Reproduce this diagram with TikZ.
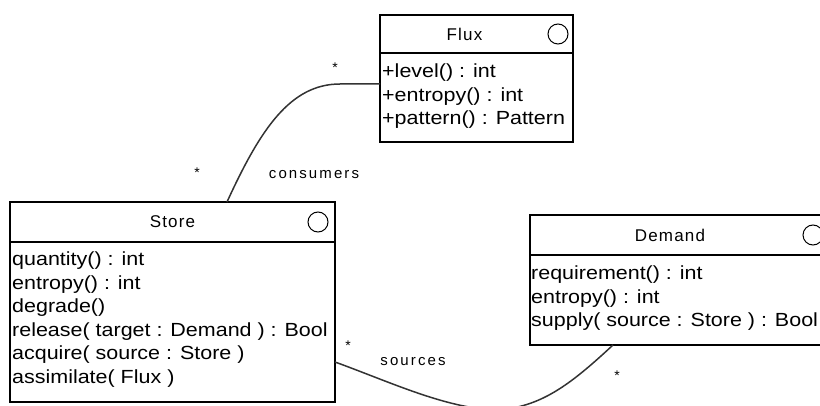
\documentclass[tikz,border=0pt]{standalone}
\usepackage{fontspec}
\setmainfont{Liberation Sans}
\newfontfamily\opsfont[FakeStretch=1.13]{Liberation Sans}
\newfontfamily\headfont[LetterSpace=7]{Liberation Sans}
\newfontfamily\rolefont[LetterSpace=14]{Liberation Sans}
\usetikzlibrary{positioning}
\begin{document}
\begin{tikzpicture}[x=1pt,y=-1pt,
	classbox/.style={draw,line width=1.1pt,anchor=north west,inner sep=0pt,outer sep=0pt},
	classicon/.style={draw,circle,line width=1pt,minimum size=20pt,inner sep=0pt},
	title/.style={font=\headfont\fontsize{17}{19}\selectfont},
	ops/.style={align=left,inner sep=0pt,font=\opsfont\fontsize{19}{23.5}\selectfont},
	assoc/.style={line width=1.5pt,black!80},
	mult/.style={inner sep=0pt,font=\fontsize{14}{14}\selectfont},
	role/.style={inner sep=0pt,font=\rolefont\fontsize{15}{17}\selectfont}]
	\useasboundingbox (0,0) rectangle (820,406);
	\clip (0,0) rectangle (820,406);
	% Store
	\node[classbox,minimum width=325pt,minimum height=40pt] (store) at (10,202) {};
	\node[classbox,minimum width=325pt,minimum height=160pt] (store ops) at (store.south west) {};
	\node[title] (store title) at (store.center) {Store};
	\node[classicon] (store icon) at ([xshift=-17pt]store.east) {};
	\node[ops,below right=10pt and 2pt of store ops.north west] (store list) {quantity() : int\\entropy() : int\\degrade()\\release( target : Demand ) : Bool\\acquire( source : Store )\\assimilate( Flux )};
	% Flux
	\node[classbox,minimum width=193pt,minimum height=38pt] (flux) at (380,15) {};
	\node[classbox,minimum width=193pt,minimum height=89pt] (flux ops) at (flux.south west) {};
	\node[title] (flux title) at ([xshift=-12pt]flux.center) {Flux};
	\node[classicon] (flux icon) at ([xshift=-15pt]flux.east) {};
	\node[ops,below right=11pt and 2pt of flux ops.north west] (flux list) {+level() : int\\+entropy() : int\\+pattern() : Pattern};
	% Demand
	\node[classbox,minimum width=300pt,minimum height=40pt] (demand) at (530,215) {};
	\node[classbox,minimum width=300pt,minimum height=90pt] (demand ops) at (demand.south west) {};
	\node[title] (demand title) at ([xshift=-10pt]demand.center) {Demand};
	\node[classicon] (demand icon) at ([xshift=-17pt]demand.east) {};
	\node[ops,below right=11pt and 1pt of demand ops.north west] (demand list) {requirement() : int\\entropy() : int\\supply( source : Store ) : Bool};
	% associations
	\draw[assoc] ([xshift=54.5pt]store.north) .. controls +(33,-72) and +(-50,0) .. ([xshift=-40pt,yshift=13.5pt]flux ops.west) -- ([yshift=13.5pt]flux ops.west);
	\draw[assoc] ([yshift=-40pt]store ops.east) .. controls +(55,20) and +(-50,-2) .. (495,410) .. controls +(45,-2) and +(-43,40) .. ([xshift=-67pt]demand ops.south);
	% multiplicities and roles
	\node[mult] (flux end) at (335,68) {*};
	\node[mult] (store end) at (197,173) {*};
	\node[mult] (source end) at (348,346) {*};
	\node[mult] (demand end) at (617,376) {*};
	\node[role] (consumers) at (314,175) {consumers};
	\node[role] (sources) at (413,362) {sources};
\end{tikzpicture}
\end{document}
